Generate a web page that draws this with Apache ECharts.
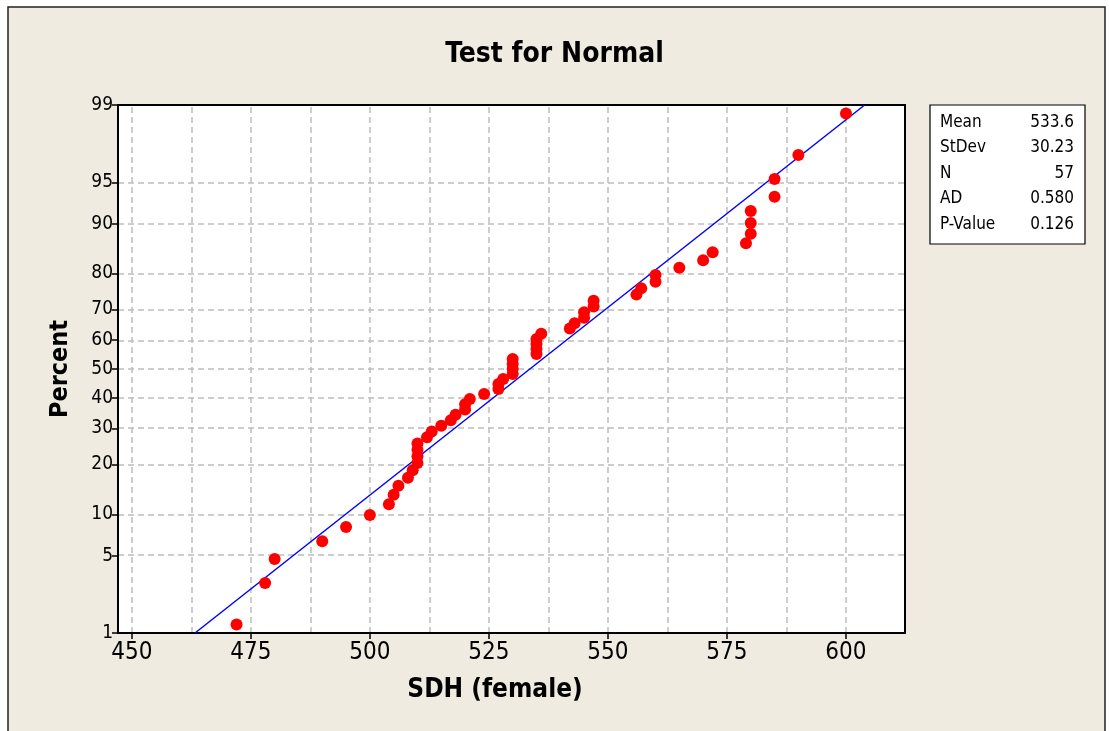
<!DOCTYPE html>
<html>
<head>
<meta charset="utf-8">
<script src="https://cdn.jsdelivr.net/npm/echarts@6/dist/echarts.min.js"></script>
<style>
html,body{margin:0;padding:0;background:#fff;}
#chart{width:1109px;height:731px;}
</style>
</head>
<body>
<div id="chart"></div>
<script>
// ---- data ----
const sdhValues = [472,478,480,490,495,500,504,505,506,508,509,510,510,510,510,512,513,515,517,518,520,520,521,524,527,527,528,530,530,530,530,535,535,535,535,536,542,543,545,545,547,547,556,557,560,560,565,570,572,579,580,580,580,585,585,590,600];
const percentValues = [1.22,2.96,4.70,6.45,8.19,9.93,11.67,13.41,15.16,16.90,18.64,20.38,22.13,23.87,25.61,27.35,29.09,30.84,32.58,34.32,36.06,37.80,39.55,41.29,43.03,44.77,46.52,48.26,50.00,51.74,53.48,55.23,56.97,58.71,60.45,62.20,63.94,65.68,67.42,69.16,70.91,72.65,74.39,76.13,77.87,79.62,81.36,83.10,84.84,86.59,88.33,90.07,91.81,93.55,95.30,97.04,98.78];
const percentTicks = [1,5,10,20,30,40,50,60,70,80,90,95,99];
const xTicks = [450,475,500,525,550,575,600];
const xGrid = [450,462.5,475,487.5,500,512.5,525,537.5,550,562.5,575,587.5,600];
const statLabels = ['Mean','StDev','N','AD','P-Value'];
const statValues = ['533.6','30.23','57','0.580','0.126'];
const fitMean = 533.6, fitStDev = 30.23;

// inverse standard normal CDF (Acklam)
function invNorm(p){
  const a=[-3.969683028665376e+01,2.209460984245205e+02,-2.759285104469687e+02,1.383577518672690e+02,-3.066479806614716e+01,2.506628277459239e+00];
  const b=[-5.447609879822406e+01,1.615858368580409e+02,-1.556989798598866e+02,6.680131188771972e+01,-1.328068155288572e+01];
  const c=[-7.784894002430293e-03,-3.223964580411365e-01,-2.400758277161838e+00,-2.549671010229163e+00,4.374664141464968e+00,2.938163982698783e+00];
  const d=[7.784695709041462e-03,3.224671290700398e-01,2.445134137142996e+00,3.754408661907416e+00];
  const pl=0.02425, ph=1-pl; let q,r;
  if(p<pl){q=Math.sqrt(-2*Math.log(p));return (((((c[0]*q+c[1])*q+c[2])*q+c[3])*q+c[4])*q+c[5])/((((d[0]*q+d[1])*q+d[2])*q+d[3])*q+1);}
  if(p<=ph){q=p-0.5;r=q*q;return (((((a[0]*r+a[1])*r+a[2])*r+a[3])*r+a[4])*r+a[5])*q/(((((b[0]*r+b[1])*r+b[2])*r+b[3])*r+b[4])*r+1);}
  q=Math.sqrt(-2*Math.log(1-p));return -(((((c[0]*q+c[1])*q+c[2])*q+c[3])*q+c[4])*q+c[5])/((((d[0]*q+d[1])*q+d[2])*q+d[3])*q+1);
}
const zOf = p => invNorm(p/100);
const zTicks = percentTicks.map(zOf);
const zMin = zOf(1), zMax = zOf(99);
const points = sdhValues.map((x,i)=>[x, zOf(percentValues[i])]);
const fitLine = [[fitMean+zMin*fitStDev, zMin],[fitMean+zMax*fitStDev, zMax]];

const FONT = "'DejaVu Sans Condensed','DejaVu Sans',sans-serif";
const gridLineStyle = {color:'#BDBDBD', width:1.5, type:[6,4]};

const statGraphics = [];
statLabels.forEach((lab,i)=>{
  const y = 124 + i*25.5;
  statGraphics.push({type:'text', left:940, top:y-10, style:{text:lab, font:"17px "+FONT, fill:'#000'}});
  statGraphics.push({type:'text', right:1109-1074, top:y-10, style:{text:statValues[i], font:"17px "+FONT, fill:'#000', align:'right'}});
});

const chart = echarts.init(document.getElementById('chart'), null, {renderer:'canvas'});
chart.setOption({
  animation:false,
  backgroundColor:'#fff',
  graphic:[
    {type:'rect', shape:{x:8, y:7, width:1097, height:740}, style:{fill:'#F0EBE1', stroke:'#222', lineWidth:1.5}, z:-10},
    {type:'text', left:'center', top:41, style:{text:'Test for Normal', font:"bold 28px "+FONT, fill:'#000'}},
    {type:'text', x:495, y:690, style:{text:'SDH (female)', font:"bold 26px "+FONT, fill:'#000', align:'center', verticalAlign:'middle'}},
    {type:'text', x:60, y:369, rotation:Math.PI/2, style:{text:'Percent', font:"bold 25px "+FONT, fill:'#000', align:'center', verticalAlign:'middle'}},
    {type:'rect', shape:{x:930, y:105, width:155, height:139}, style:{fill:'#fff', stroke:'#000', lineWidth:1.2}},
    ...statGraphics
  ],
  grid:{left:118, top:105, width:787, height:528, show:true, backgroundColor:'#fff', borderColor:'#000', borderWidth:2},
  xAxis:{
    type:'value', min:447.1, max:612.4,
    axisLine:{show:true, onZero:false, lineStyle:{color:'#000', width:2}},
    axisTick:{show:true, length:6, customValues:xTicks, lineStyle:{color:'#000', width:1.5}},
    axisLabel:{customValues:xTicks, margin:8, color:'#000', fontSize:24, fontFamily:FONT},
    splitLine:{show:false}
  },
  yAxis:{
    type:'value', min:zMin, max:zMax,
    axisLine:{show:true, onZero:false, lineStyle:{color:'#000', width:2}},
    axisTick:{show:true, length:6, customValues:zTicks, lineStyle:{color:'#000', width:1.5}},
    axisLabel:{customValues:zTicks, margin:5, color:'#000', fontSize:19, fontFamily:FONT,
      formatter:v=>{const k=zTicks.findIndex(z=>Math.abs(z-v)<1e-6);return k>=0?String(percentTicks[k]):'';}},
    splitLine:{show:false}
  },
  series:[
    {type:'scatter', data:[], silent:true, z:1, zlevel:0,
     markLine:{silent:true, z:0, symbol:['none','none'], label:{show:false}, lineStyle:gridLineStyle, animation:false,
       data:[...xGrid.map(x=>({xAxis:x})), ...zTicks.slice(1,-1).map(z=>({yAxis:z}))]}},
    {type:'line', data:fitLine, showSymbol:false, symbol:'none', lineStyle:{color:'#0000FF', width:1.5}, z:2, silent:true},
    {type:'scatter', data:points, symbol:'circle', symbolSize:12, itemStyle:{color:'#FF0000', opacity:1}, z:3}
  ]
});
</script>
</body>
</html>
